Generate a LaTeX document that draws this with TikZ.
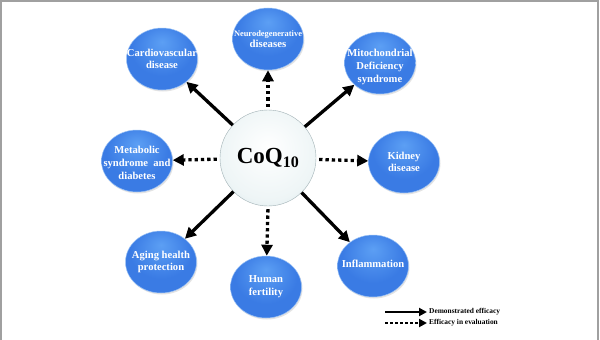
\documentclass[tikz,border=0pt]{standalone}
\usepackage{fontspec}
\setmainfont{Liberation Serif}
\usetikzlibrary{arrows.meta,shapes.geometric,shadows}
\definecolor{blueA}{HTML}{5C9FF4}
\definecolor{blueB}{HTML}{3A7BE4}
\definecolor{blueC}{HTML}{1F58BC}
\definecolor{blueRim}{HTML}{9CC3F6}
\definecolor{coqA}{HTML}{FFFFFF}
\definecolor{coqB}{HTML}{EEF5F6}
\definecolor{coqC}{HTML}{C9DDE2}
\definecolor{framegray}{HTML}{A0A0A0}
\pgfdeclareradialshading{blueball}{\pgfpoint{0bp}{14bp}}{color(0bp)=(blueA); color(22bp)=(blueB); color(38bp)=(blueB); color(55bp)=(blueC)}
\pgfdeclareradialshading{coqball}{\pgfpoint{0bp}{6bp}}{color(0bp)=(coqA); color(25bp)=(coqB); color(42bp)=(coqC); color(50bp)=(coqC)}
\tikzset{
  ball/.style={ellipse, minimum width=71pt, minimum height=62pt, inner sep=0pt,
    shading=blueball, draw=blueRim, line width=0.5pt,
    drop shadow={shadow xshift=1pt, shadow yshift=-1.5pt, opacity=0.22}},
  balltext/.style={inner sep=0pt, text=white, align=center,
    font=\bfseries\fontsize{10.6}{12.7}\selectfont},
  coq/.style={circle, minimum size=96pt, inner sep=0pt, shading=coqball,
    draw=coqC!80!black, line width=0.4pt, font=\bfseries\fontsize{23}{26}\selectfont},
  demo/.style={line width=3.3pt, -{Triangle[length=11pt,width=11pt]}},
  evalu/.style={line width=3.3pt, dash pattern=on 3.3pt off 3pt, -{Triangle[length=11pt,width=11pt]}},
  legtext/.style={anchor=west, inner sep=0pt, font=\bfseries\fontsize{7.4}{8}\selectfont}
}
\begin{document}
\begin{tikzpicture}[x=1pt,y=-1pt]
\useasboundingbox (0,0) rectangle (600,340);
\fill[white] (0,0) rectangle (600,340);
\draw[framegray, line width=1.5pt] (0.75,340) -- (0.75,0.75) -- (598,0.75) -- (598,340);

\node[coq] (q) at (268,158) {CoQ\textsubscript{\fontsize{16}{18}\selectfont10}};

\node[ball] (card) at (162,59) {};
\node[ball] (neuro) at (268,39) {};
\node[ball] (mito) at (380,63) {};
\node[ball] (meta) at (137,161) {};
\node[ball] (kid) at (404,162) {};
\node[ball] (aging) at (161,262) {};
\node[ball] (fert) at (266,287) {};
\node[ball] (infl) at (373,266) {};

\node[balltext] (cardt) at (card) {Cardiovascular\\disease};
\node[balltext, font=\bfseries\fontsize{8.4}{11}\selectfont] (neurot) at (neuro) {Neurodegenerative\\{\fontsize{10.8}{11}\selectfont diseases}};
\node[balltext] (mitot) at ([yshift=-4pt]mito.center) {Mitochondrial\\Deficiency\\syndrome};
\node[balltext] (metat) at ([yshift=-2pt]meta.center) {Metabolic\\syndrome\ \ and\\diabetes};
\node[balltext] (kidt) at (kid) {Kidney\\disease};
\node[balltext] (agingt) at (aging) {Aging health\\protection};
\node[balltext] (fertt) at (fert) {Human\\fertility};
\node[balltext] (inflt) at ([yshift=2pt]infl.center) {Inflammation};

\draw[demo] (q) -- (card);
\draw[demo] (q) -- (mito);
\draw[demo] (q) -- (aging);
\draw[demo] (q) -- (infl);
\draw[evalu, shorten <=3pt] (q) -- (neuro);
\draw[evalu, shorten <=3pt] (q) -- (meta);
\draw[evalu, shorten <=3pt] (q) -- (kid);
\draw[evalu, shorten <=3pt] (q.south) -- (fert);

\coordinate (l1a) at (385,312);
\coordinate (l1b) at (427,312);
\coordinate (l2a) at (385,323);
\coordinate (l2b) at (427,323);
\draw[line width=2.5pt, -{Triangle[length=8pt,width=8pt]}] (l1a) -- (l1b);
\draw[line width=2.5pt, dash pattern=on 2.5pt off 2.5pt, -{Triangle[length=8pt,width=8pt]}] (l2a) -- (l2b);
\node[legtext] (t1) at (429,312) {Demonstrated efficacy};
\node[legtext] (t2) at (429,323) {Efficacy in evaluation};
\end{tikzpicture}
\end{document}
